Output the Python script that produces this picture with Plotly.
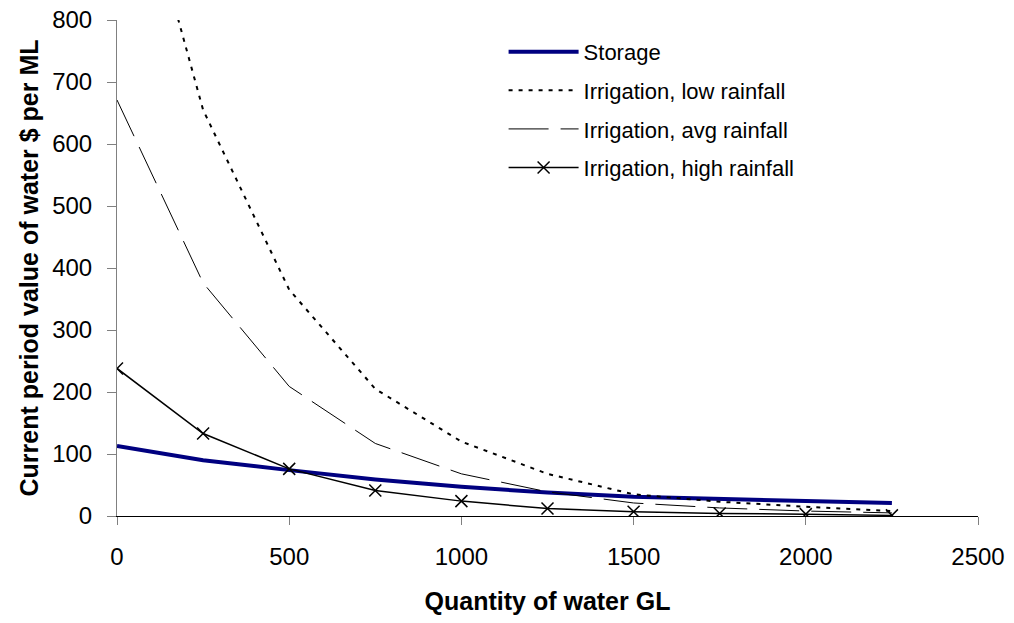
import plotly.graph_objects as go

quantity = [0, 250, 500, 750, 1000, 1250, 1500, 1750, 2000, 2250]
storage = [113, 90, 74, 59, 47, 38, 31, 27, 24, 21]
irr_low = [1160, 655, 365, 205, 120, 68, 35, 23, 15, 8]
irr_avg = [671, 376, 209, 117, 68, 39, 21, 13, 8, 5]
irr_high = [238, 133, 76, 41, 24, 12, 7, 4, 3, 1]

x_ticks = [0, 500, 1000, 1500, 2000, 2500]
y_ticks = [0, 100, 200, 300, 400, 500, 600, 700, 800]

FONT = "Liberation Sans, Arial, sans-serif"

fig = go.Figure()
fig.add_trace(go.Scatter(x=quantity, y=storage, mode="lines", name="Storage",
                         legendgroup="a",
                         line=dict(color="#000080", width=4)))
fig.add_trace(go.Scatter(x=quantity, y=irr_low, mode="lines", name="Irrigation, low rainfall",
                         legendgroup="b",
                         line=dict(color="black", width=2, dash="4px,6px")))
fig.add_trace(go.Scatter(x=quantity, y=irr_avg, mode="lines", name="Irrigation, avg rainfall",
                         legendgroup="c",
                         line=dict(color="black", width=1, dash="40px,12px")))
fig.add_trace(go.Scatter(x=quantity, y=irr_high, mode="lines+markers", name="Irrigation, high rainfall",
                         legendgroup="d",
                         line=dict(color="black", width=1.5),
                         marker=dict(symbol="x-thin", size=12, color="black",
                                     line=dict(color="black", width=1.5))))

fig.update_layout(
    width=1014, height=623,
    margin=dict(l=117, r=36, t=20, b=107),
    paper_bgcolor="white", plot_bgcolor="white",
    font=dict(family=FONT, color="black"),
    showlegend=True,
    legend=dict(x=0.449, y=0.978, xanchor="left", yanchor="top",
                font=dict(size=22, family=FONT),
                itemwidth=70, traceorder="grouped", tracegroupgap=7,
                bgcolor="rgba(0,0,0,0)", borderwidth=0),
    xaxis=dict(range=[0, 2500], tickvals=x_ticks, ticktext=[str(v) for v in x_ticks],
               showgrid=False, zeroline=False,
               showline=True, linecolor="black", linewidth=1,
               ticks="outside", ticklen=8, tickcolor="#808080", tickwidth=1,
               tickfont=dict(size=24, family=FONT),
               ticklabelstandoff=11,
               title=dict(text="<b>Quantity of water GL</b>", font=dict(size=25, family=FONT),
                          standoff=23),
               automargin=False),
    yaxis=dict(range=[0, 800], tickvals=y_ticks, ticktext=[str(v) for v in y_ticks],
               showgrid=False, zeroline=False,
               showline=True, linecolor="#808080", linewidth=1,
               ticks="outside", ticklen=9, tickcolor="#808080", tickwidth=1,
               tickfont=dict(size=24, family=FONT),
               ticklabelstandoff=10,
               title=dict(text="<b>Current period value of water $ per ML</b>",
                          font=dict(size=25, family=FONT), standoff=6),
               automargin=False),
)

fig.write_html("out.html")
